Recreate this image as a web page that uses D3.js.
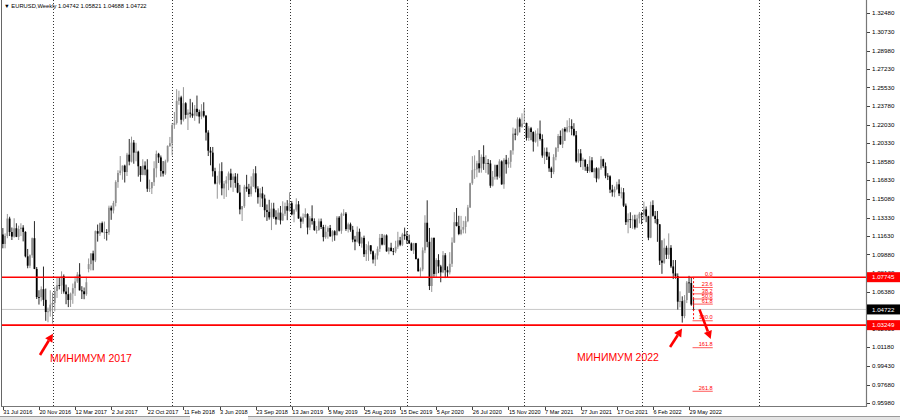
<!DOCTYPE html>
<html><head><meta charset="utf-8">
<script src="https://cdn.jsdelivr.net/npm/d3@7"></script>
<style>body{margin:0;background:#fff;} svg{display:block;}</style>
</head><body><svg id="c" width="900" height="420"></svg>
<script>
// ---- DATA ----
const symbolTitle = "EURUSD,Weekly";
const firstWeek = "31 Jul 2016"; // bar index 0
// weekly candles [open, high, low, close], from 31 Jul 2016
const candles = [
[1.1175,1.1235,1.1045,1.1086],[1.1086,1.1185,1.1045,1.1161],[1.1161,1.1367,1.1140,1.1324],[1.1324,1.1341,1.1160,1.1198],[1.1198,1.1240,1.1123,1.1155],
[1.1155,1.1327,1.1145,1.1233],[1.1233,1.1280,1.1150,1.1153],[1.1153,1.1258,1.1123,1.1226],[1.1226,1.1280,1.1160,1.1239],[1.1239,1.1262,1.1110,1.1199],
[1.1199,1.1205,1.0960,1.0970],[1.0970,1.1039,1.0858,1.0882],[1.0882,1.0988,1.0860,1.0980],[1.0980,1.1146,1.0956,1.1140],[1.1140,1.1300,1.0850,1.0852],
[1.0852,1.0870,1.0570,1.0588],[1.0588,1.0652,1.0518,1.0587],[1.0587,1.0688,1.0548,1.0662],[1.0662,1.0874,1.0505,1.0562],[1.0562,1.0668,1.0366,1.0448],
[1.0448,1.0490,1.0352,1.0454],[1.0454,1.0652,1.0405,1.0517],[1.0517,1.0630,1.0340,1.0533],[1.0533,1.0685,1.0454,1.0645],[1.0645,1.0775,1.0580,1.0700],
[1.0700,1.0774,1.0660,1.0697],[1.0697,1.0829,1.0617,1.0784],[1.0784,1.0800,1.0620,1.0640],[1.0640,1.0705,1.0521,1.0615],[1.0615,1.0680,1.0494,1.0561],
[1.0561,1.0630,1.0495,1.0621],[1.0621,1.0715,1.0525,1.0672],[1.0672,1.0782,1.0599,1.0734],[1.0734,1.0822,1.0720,1.0799],[1.0799,1.0906,1.0650,1.0651],
[1.0651,1.0690,1.0570,1.0642],[1.0642,1.0678,1.0568,1.0615],[1.0615,1.0778,1.0600,1.0727],[1.0850,1.0950,1.0820,1.0897],[1.0897,1.0999,1.0838,1.0997],
[1.0997,1.1023,1.0839,1.0932],[1.0932,1.1212,1.0916,1.1206],[1.1206,1.1268,1.1108,1.1183],[1.1183,1.1285,1.1161,1.1281],[1.1281,1.1296,1.1192,1.1197],
[1.1197,1.1296,1.1132,1.1198],[1.1198,1.1225,1.1118,1.1195],[1.1195,1.1445,1.1171,1.1426],[1.1426,1.1445,1.1312,1.1400],[1.1400,1.1490,1.1372,1.1470],
[1.1470,1.1683,1.1438,1.1666],[1.1666,1.1777,1.1612,1.1751],[1.1751,1.1910,1.1730,1.1774],[1.1774,1.1822,1.1688,1.1820],[1.1820,1.1829,1.1662,1.1760],
[1.1760,1.1940,1.1723,1.1923],[1.1923,1.2070,1.1823,1.1858],[1.1858,1.2092,1.1850,1.2036],[1.2036,1.2060,1.1838,1.1942],[1.1942,1.2034,1.1861,1.1951],
[1.1951,1.1960,1.1717,1.1814],[1.1814,1.1814,1.1669,1.1733],[1.1733,1.1880,1.1730,1.1821],[1.1821,1.1860,1.1730,1.1784],[1.1784,1.1880,1.1574,1.1604],
[1.1604,1.1689,1.1573,1.1608],[1.1608,1.1667,1.1554,1.1665],[1.1665,1.1861,1.1630,1.1795],[1.1795,1.1961,1.1710,1.1931],[1.1931,1.1940,1.1845,1.1897],
[1.1897,1.1915,1.1717,1.1770],[1.1770,1.1863,1.1718,1.1746],[1.1746,1.1876,1.1733,1.1860],[1.1860,1.2010,1.1849,1.2005],[1.2005,1.2089,1.1995,1.2030],
[1.2030,1.2219,1.1916,1.2200],[1.2200,1.2323,1.2165,1.2220],[1.2220,1.2537,1.2205,1.2427],[1.2427,1.2522,1.2390,1.2460],[1.2460,1.2475,1.2206,1.2250],
[1.2250,1.2556,1.2234,1.2405],[1.2405,1.2415,1.2260,1.2296],[1.2296,1.2347,1.2154,1.2317],[1.2317,1.2446,1.2270,1.2307],[1.2307,1.2413,1.2268,1.2289],
[1.2289,1.2388,1.2240,1.2353],[1.2353,1.2477,1.2283,1.2322],[1.2322,1.2345,1.2215,1.2280],[1.2280,1.2396,1.2255,1.2331],[1.2331,1.2414,1.2272,1.2288],
[1.2288,1.2295,1.2055,1.2130],[1.2130,1.2152,1.1910,1.1960],[1.1960,1.1995,1.1823,1.1942],[1.1942,1.1995,1.1717,1.1768],[1.1768,1.1800,1.1644,1.1652],
[1.1652,1.1725,1.1510,1.1660],[1.1660,1.1840,1.1642,1.1768],[1.1768,1.1852,1.1542,1.1607],[1.1607,1.1677,1.1508,1.1652],[1.1652,1.1720,1.1527,1.1684],
[1.1684,1.1765,1.1590,1.1747],[1.1747,1.1791,1.1615,1.1686],[1.1686,1.1745,1.1574,1.1718],[1.1718,1.1750,1.1613,1.1658],[1.1658,1.1745,1.1562,1.1568],
[1.1568,1.1640,1.1364,1.1410],[1.1410,1.1442,1.1301,1.1440],[1.1440,1.1640,1.1424,1.1622],[1.1622,1.1734,1.1575,1.1603],[1.1603,1.1649,1.1526,1.1553],
[1.1553,1.1720,1.1530,1.1625],[1.1625,1.1788,1.1620,1.1748],[1.1748,1.1815,1.1570,1.1605],[1.1605,1.1627,1.1464,1.1524],[1.1524,1.1609,1.1433,1.1560],
[1.1560,1.1622,1.1432,1.1512],[1.1512,1.1548,1.1336,1.1402],[1.1402,1.1456,1.1302,1.1387],[1.1387,1.1500,1.1314,1.1335],[1.1335,1.1472,1.1216,1.1417],
[1.1417,1.1472,1.1322,1.1340],[1.1340,1.1402,1.1267,1.1316],[1.1316,1.1420,1.1310,1.1380],[1.1380,1.1442,1.1269,1.1307],[1.1307,1.1486,1.1302,1.1370],
[1.1370,1.1474,1.1349,1.1440],[1.1440,1.1497,1.1309,1.1398],[1.1398,1.1570,1.1390,1.1468],[1.1468,1.1488,1.1355,1.1363],[1.1363,1.1415,1.1289,1.1407],
[1.1407,1.1514,1.1389,1.1457],[1.1457,1.1488,1.1322,1.1325],[1.1325,1.1342,1.1234,1.1295],[1.1295,1.1372,1.1275,1.1336],[1.1336,1.1420,1.1332,1.1366],
[1.1366,1.1374,1.1176,1.1240],[1.1240,1.1346,1.1216,1.1326],[1.1326,1.1448,1.1267,1.1300],[1.1300,1.1326,1.1208,1.1217],[1.1217,1.1255,1.1183,1.1217],
[1.1217,1.1324,1.1208,1.1298],[1.1298,1.1324,1.1226,1.1245],[1.1245,1.1265,1.1110,1.1150],[1.1150,1.1265,1.1135,1.1200],[1.1200,1.1251,1.1135,1.1235],
[1.1235,1.1264,1.1152,1.1158],[1.1158,1.1216,1.1107,1.1205],[1.1205,1.1215,1.1116,1.1168],[1.1168,1.1348,1.1165,1.1333],[1.1333,1.1348,1.1202,1.1210],
[1.1210,1.1380,1.1181,1.1368],[1.1368,1.1412,1.1348,1.1370],[1.1370,1.1385,1.1208,1.1225],[1.1225,1.1286,1.1193,1.1270],[1.1270,1.1286,1.1200,1.1219],
[1.1219,1.1255,1.1102,1.1127],[1.1127,1.1162,1.1027,1.1108],[1.1108,1.1250,1.1100,1.1200],[1.1200,1.1230,1.1066,1.1090],[1.1090,1.1153,1.1051,1.1143],
[1.1143,1.1164,1.0964,1.0990],[1.0990,1.1085,1.0926,1.1030],[1.1030,1.1110,1.0927,1.1073],[1.1073,1.1076,1.0990,1.1017],[1.1017,1.1025,1.0903,1.0940],
[1.0940,1.0998,1.0879,1.0978],[1.0978,1.1063,1.0940,1.1040],[1.1040,1.1179,1.1012,1.1143],[1.1143,1.1180,1.1072,1.1080],[1.1080,1.1175,1.1074,1.1166],
[1.1166,1.1176,1.1013,1.1017],[1.1017,1.1055,1.0989,1.1051],[1.1051,1.1097,1.1014,1.1020],[1.1020,1.1048,1.0981,1.1017],[1.1017,1.1116,1.1000,1.1060],
[1.1060,1.1200,1.1040,1.1120],[1.1120,1.1152,1.1065,1.1079],[1.1079,1.1190,1.1066,1.1175],[1.1175,1.1239,1.1125,1.1160],[1.1160,1.1206,1.1086,1.1121],
[1.1121,1.1173,1.1086,1.1091],[1.1091,1.1100,1.1021,1.1026],[1.1026,1.1096,1.0992,1.1093],[1.1093,1.1096,1.0940,1.0945],[1.0945,1.0955,1.0827,1.0830],
[1.0830,1.0865,1.0778,1.0848],[1.0848,1.1054,1.0830,1.1026],[1.1026,1.1355,1.1000,1.1285],[1.1285,1.1495,1.1055,1.1106],[1.1106,1.1236,1.0654,1.0692],
[1.0692,1.1147,1.0636,1.1142],[1.1142,1.1148,1.0778,1.0805],[1.0805,1.0952,1.0768,1.0935],[1.0935,1.0990,1.0812,1.0875],[1.0875,1.0890,1.0727,1.0820],
[1.0820,1.1019,1.0812,1.0980],[1.0980,1.1000,1.0766,1.0840],[1.0840,1.0876,1.0775,1.0820],[1.0820,1.1009,1.0800,1.0900],[1.0900,1.1147,1.0870,1.1100],
[1.1100,1.1384,1.1095,1.1290],[1.1290,1.1423,1.1250,1.1255],[1.1255,1.1350,1.1168,1.1180],[1.1180,1.1349,1.1168,1.1220],[1.1220,1.1303,1.1185,1.1245],
[1.1245,1.1345,1.1185,1.1300],[1.1300,1.1452,1.1290,1.1428],[1.1428,1.1660,1.1423,1.1655],[1.1655,1.1909,1.1640,1.1778],[1.1778,1.1916,1.1696,1.1785],
[1.1785,1.1866,1.1711,1.1842],[1.1842,1.1966,1.1754,1.1795],[1.1795,1.1925,1.1754,1.1902],[1.1902,1.2011,1.1780,1.1838],[1.1838,1.1917,1.1752,1.1845],
[1.1845,1.1882,1.1737,1.1840],[1.1840,1.1872,1.1612,1.1632],[1.1632,1.1770,1.1625,1.1715],[1.1715,1.1831,1.1689,1.1825],[1.1825,1.1830,1.1689,1.1718],
[1.1718,1.1880,1.1703,1.1860],[1.1860,1.1870,1.1640,1.1645],[1.1645,1.1891,1.1603,1.1875],[1.1875,1.1920,1.1745,1.1833],[1.1833,1.1894,1.1800,1.1856],
[1.1856,1.1965,1.1800,1.1962],[1.1962,1.2177,1.1923,1.2120],[1.2120,1.2167,1.2058,1.2110],[1.2110,1.2273,1.2100,1.2255],[1.2255,1.2270,1.2131,1.2185],
[1.2185,1.2310,1.2175,1.2215],[1.2215,1.2349,1.2210,1.2220],[1.2220,1.2223,1.2055,1.2080],[1.2080,1.2190,1.2053,1.2170],[1.2170,1.2183,1.2058,1.2135],
[1.2135,1.2142,1.1952,1.2045],[1.2045,1.2150,1.2035,1.2120],[1.2120,1.2170,1.1999,1.2120],[1.2120,1.2243,1.2055,1.2070],[1.2070,1.2113,1.1894,1.1915],
[1.1915,1.1989,1.1835,1.1950],[1.1950,1.1990,1.1873,1.1905],[1.1905,1.1945,1.1762,1.1795],[1.1795,1.1810,1.1704,1.1760],[1.1760,1.1927,1.1740,1.1900],
[1.1900,1.1995,1.1870,1.1985],[1.1985,1.2117,1.1950,1.2098],[1.2098,1.2150,1.2015,1.2020],[1.2020,1.2170,1.1985,1.2165],[1.2165,1.2181,1.2052,1.2140],
[1.2140,1.2245,1.2130,1.2180],[1.2180,1.2266,1.2133,1.2190],[1.2190,1.2254,1.2105,1.2165],[1.2165,1.2218,1.2095,1.2105],[1.2105,1.2145,1.1848,1.1860],
[1.1860,1.1975,1.1847,1.1935],[1.1935,1.1975,1.1806,1.1865],[1.1865,1.1895,1.1780,1.1875],[1.1875,1.1880,1.1772,1.1810],[1.1810,1.1835,1.1751,1.1770],
[1.1770,1.1909,1.1755,1.1870],[1.1870,1.1900,1.1757,1.1760],[1.1760,1.1800,1.1705,1.1795],[1.1795,1.1805,1.1664,1.1700],[1.1700,1.1803,1.1690,1.1795],
[1.1795,1.1909,1.1780,1.1880],[1.1880,1.1885,1.1800,1.1815],[1.1815,1.1850,1.1702,1.1725],[1.1725,1.1750,1.1685,1.1720],[1.1720,1.1730,1.1563,1.1595],
[1.1595,1.1640,1.1530,1.1570],[1.1570,1.1624,1.1524,1.1600],[1.1600,1.1669,1.1590,1.1645],[1.1645,1.1692,1.1535,1.1560],[1.1560,1.1616,1.1513,1.1570],
[1.1570,1.1610,1.1433,1.1445],[1.1445,1.1465,1.1264,1.1290],[1.1290,1.1373,1.1186,1.1320],[1.1320,1.1383,1.1235,1.1315],[1.1315,1.1355,1.1228,1.1315],
[1.1315,1.1360,1.1222,1.1240],[1.1240,1.1360,1.1235,1.1325],[1.1325,1.1386,1.1279,1.1370],[1.1370,1.1385,1.1272,1.1360],[1.1360,1.1483,1.1310,1.1410],
[1.1410,1.1437,1.1290,1.1345],[1.1345,1.1350,1.1121,1.1145],[1.1145,1.1483,1.1140,1.1450],[1.1450,1.1495,1.1342,1.1350],[1.1350,1.1395,1.1280,1.1320],
[1.1320,1.1395,1.1106,1.1270],[1.1270,1.1273,1.0889,1.0930],[1.0930,1.1121,1.0806,1.0910],[1.0910,1.1137,1.0900,1.1050],[1.1050,1.1070,1.0945,1.0985],
[1.0985,1.1185,1.0945,1.1050],[1.1050,1.1075,1.0860,1.0875],[1.0875,1.0935,1.0757,1.0810],[1.0810,1.0935,1.0760,1.0785],[1.0785,1.0810,1.0471,1.0545],
[1.0545,1.0642,1.0492,1.0550],[1.0550,1.0595,1.0349,1.0410],[1.0410,1.0607,1.0390,1.0560],[1.0560,1.0739,1.0532,1.0725],[1.0725,1.0787,1.0627,1.0720],
[1.0720,1.0774,1.0506,1.0518],[1.04742,1.05821,1.04688,1.04722]
];
const lastBar = [1.04742, 1.05821, 1.04688, 1.04722];
const dateLabels = ["31 Jul 2016","20 Nov 2016","12 Mar 2017","2 Jul 2017","22 Oct 2017","11 Feb 2018","3 Jun 2018","23 Sep 2018","13 Jan 2019","5 May 2019","25 Aug 2019","15 Dec 2019","5 Apr 2020","26 Jul 2020","15 Nov 2020","7 Mar 2021","27 Jun 2021","17 Oct 2021","6 Feb 2022","29 May 2022"];
const dateLabelStep = 16; // bars between labels
const yearSeparatorBars = [22, 75, 127, 179, 231, 283, 335];
const priceTicks = [1.32480,1.30730,1.28980,1.27230,1.25530,1.23780,1.22030,1.20330,1.18580,1.16830,1.15080,1.13330,1.11630,1.09880,1.08130,1.06380,1.04630,1.02930,1.01180,0.99430,0.97680,0.95980];
const redLevels = [1.07745, 1.03249];
const currentPrice = 1.04722;
const fibLevels = [0, 23.6, 38.2, 50.0, 61.8, 100.0, 161.8, 261.8];
const fibHigh = 1.07745, fibLow = 1.0366;
const fibBars = [306, 314.5];
const noteTexts = [
  {text:"МИНИМУМ 2017", bar:20.9, price:0.9979},
  {text:"МИНИМУМ 2022", bar:254.4, price:0.9989}
];
const arrowNotes = [
  {from:[16.46,1.0045], to:[22.2,1.0245]},
  {from:[295.6,1.0120], to:[300.9,1.0293]},
  {from:[308.6,1.0473], to:[313.6,1.0195]}
];

// ---- CHART ----
const svg = d3.select("#c");
const plotRight = 866, plotBottom = 406;
const x = d3.scaleLinear().domain([0, 382.4]).range([2.85, plotRight]);
const y = d3.scaleLinear().domain([0.9598, 1.3248]).range([402.7, 13.3]);
const font = "Tahoma, 'Liberation Sans', Arial, sans-serif";

svg.append("rect").attr("width",900).attr("height",420).attr("fill","#fff");
svg.append("defs").append("clipPath").attr("id","plot")
  .append("rect").attr("x",2).attr("y",0).attr("width",plotRight-2).attr("height",plotBottom);

const plot = svg.append("g").attr("clip-path","url(#plot)");

// year separators
plot.selectAll("line.sep").data(yearSeparatorBars).join("line")
  .attr("x1",d=>Math.round(x(d))+0.5).attr("x2",d=>Math.round(x(d))+0.5)
  .attr("y1",0).attr("y2",plotBottom)
  .attr("stroke","#000").attr("stroke-width",1).attr("stroke-dasharray","1,2").attr("opacity",0.8);

// current price line
plot.append("line").attr("x1",0).attr("x2",plotRight)
  .attr("y1",y(currentPrice)).attr("y2",y(currentPrice))
  .attr("stroke","#c8c8c8").attr("stroke-width",1);

// candles
const cg = plot.append("g");
candles.forEach((c,i)=>{
  const [o,h,l,cl] = c;
  const up = cl >= o;
  const cx = x(i);
  const col = up ? "#8f8f8f" : "#000";
  cg.append("line").attr("x1",cx).attr("x2",cx).attr("y1",y(h)).attr("y2",y(l))
    .attr("stroke", up ? "#8a8a8a" : "#111").attr("stroke-width",0.9);
  const top = y(Math.max(o,cl)), bot = y(Math.min(o,cl));
  cg.append("rect").attr("x",cx-0.9).attr("width",1.8)
    .attr("y",top).attr("height",Math.max(0.8,bot-top)).attr("fill",col);
});

// red horizontal levels
plot.selectAll("line.red").data(redLevels).join("line")
  .attr("x1",0).attr("x2",plotRight).attr("y1",d=>y(d)).attr("y2",d=>y(d))
  .attr("stroke","#ff0000").attr("stroke-width",1.6);

// fibonacci
const fibPrice = lv => fibHigh - (fibHigh - fibLow) * lv / 100;
plot.append("line").attr("x1",x(fibBars[0])).attr("x2",x(fibBars[0]))
  .attr("y1",y(fibHigh)).attr("y2",y(fibLow))
  .attr("stroke","#ff0000").attr("stroke-width",1).attr("stroke-dasharray","2,2");
plot.selectAll("line.fib").data(fibLevels).join("line")
  .attr("x1",x(fibBars[0])-1).attr("x2",x(fibBars[1]))
  .attr("y1",d=>y(fibPrice(d))).attr("y2",d=>y(fibPrice(d)))
  .attr("stroke","#ff3030").attr("stroke-width",0.8);
plot.selectAll("text.fib").data(fibLevels).join("text")
  .attr("x",x(fibBars[1])).attr("y",d=>y(fibPrice(d))-1.3)
  .attr("text-anchor","end").attr("font-family",font).attr("font-size",5.6)
  .attr("fill","#ff0000").text(d=>d.toFixed(1));

// arrows
function arrow(g, a){
  const x1=x(a.from[0]), y1=y(a.from[1]), x2=x(a.to[0]), y2=y(a.to[1]);
  const ang = Math.atan2(y2-y1, x2-x1);
  const hl = 8, hw = 4.2;
  const bx = x2 - hl*Math.cos(ang), by = y2 - hl*Math.sin(ang);
  g.append("line").attr("x1",x1).attr("y1",y1).attr("x2",bx).attr("y2",by)
    .attr("stroke","#ff0000").attr("stroke-width",2.6);
  const px = -Math.sin(ang), py = Math.cos(ang);
  g.append("path").attr("d",`M${x2},${y2}L${bx+px*hw},${by+py*hw}L${bx-px*hw},${by-py*hw}Z`)
    .attr("fill","#ff0000");
}
arrowNotes.forEach(a=>arrow(plot,a));

plot.selectAll("text.note").data(noteTexts).join("text")
  .attr("x",d=>x(d.bar)).attr("y",d=>y(d.price))
  .attr("font-family","'Liberation Sans', Arial, sans-serif").attr("font-size",10.5)
  .attr("fill","#ff0000").text(d=>d.text);

// frame
svg.append("line").attr("x1",1.5).attr("x2",1.5).attr("y1",0).attr("y2",plotBottom).attr("stroke","#666");
svg.append("line").attr("x1",plotRight+0.5).attr("x2",plotRight+0.5).attr("y1",0).attr("y2",plotBottom+0.5).attr("stroke","#777").attr("stroke-width",1.2);
svg.append("line").attr("x1",1).attr("x2",plotRight+1).attr("y1",plotBottom+0.5).attr("y2",plotBottom+0.5).attr("stroke","#777");

// price axis
const pa = svg.append("g");
pa.selectAll("line").data(priceTicks).join("line")
  .attr("x1",plotRight+1).attr("x2",plotRight+4).attr("y1",d=>Math.round(y(d))+0.5).attr("y2",d=>Math.round(y(d))+0.5)
  .attr("stroke","#444");
pa.selectAll("text").data(priceTicks).join("text")
  .attr("x",plotRight+6).attr("y",d=>y(d)).attr("dy","0.35em")
  .attr("font-family",font).attr("font-size",6.2).attr("fill","#000")
  .text(d=>d.toFixed(5));

// price labels boxes
const boxes = redLevels.map(v=>({v, bg:"#ff0000"})).concat([{v:currentPrice,bg:"#000"}]);
const bx = svg.append("g");
bx.selectAll("rect").data(boxes).join("rect")
  .attr("x",plotRight+1).attr("width",33).attr("y",d=>y(d.v)-5).attr("height",10).attr("fill",d=>d.bg);
bx.selectAll("text").data(boxes).join("text")
  .attr("x",plotRight+6).attr("y",d=>y(d.v)).attr("dy","0.35em")
  .attr("font-family",font).attr("font-size",6.2).attr("fill","#fff")
  .text(d=>d.v.toFixed(5));

// time axis
const ta = svg.append("g");
ta.selectAll("line").data(dateLabels).join("line")
  .attr("x1",(d,i)=>Math.round(x(i*dateLabelStep))+0.5).attr("x2",(d,i)=>Math.round(x(i*dateLabelStep))+0.5)
  .attr("y1",plotBottom+1).attr("y2",plotBottom+4).attr("stroke","#444");
ta.selectAll("text").data(dateLabels).join("text")
  .attr("x",(d,i)=>x(i*dateLabelStep)+0.5).attr("y",plotBottom+7.5)
  .attr("font-family",font).attr("font-size",5.6).attr("fill","#000")
  .text(d=>d);

// bottom tab strip
svg.append("rect").attr("x",0).attr("y",416.5).attr("width",900).attr("height",3.5).attr("fill","#e4e4e4");
svg.append("line").attr("x1",0).attr("x2",190).attr("y1",416.5).attr("y2",416.5).attr("stroke","#9a9a9a");
svg.append("line").attr("x1",248).attr("x2",900).attr("y1",416.5).attr("y2",416.5).attr("stroke","#9a9a9a");
svg.append("rect").attr("x",190).attr("y",416).attr("width",58).attr("height",4).attr("fill","#fff");

// header
svg.append("text").attr("x",4).attr("y",8).attr("font-family",font).attr("font-size",5.8).attr("fill","#000")
  .text("▼ " + symbolTitle + "  " + lastBar.map(v=>v.toFixed(5)).join(" "));
</script></body></html>
